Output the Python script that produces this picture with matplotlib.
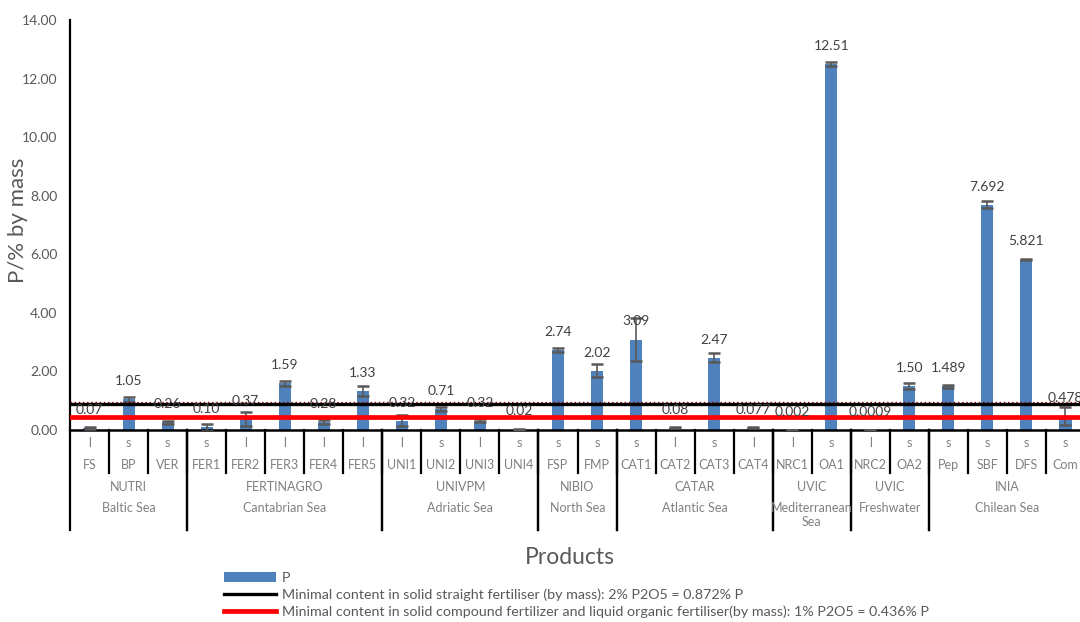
import matplotlib
matplotlib.use("Agg")
import matplotlib.pyplot as plt
import matplotlib.transforms as mtransforms
from matplotlib.lines import Line2D
from matplotlib.patches import Patch

plt.rcParams['font.family'] = ['Lato', 'DejaVu Sans']

# ---- data -------------------------------------------------------------
products = ["FS", "BP", "VER", "FER1", "FER2", "FER3", "FER4", "FER5",
            "UNI1", "UNI2", "UNI3", "UNI4", "FSP", "FMP",
            "CAT1", "CAT2", "CAT3", "CAT4", "NRC1", "OA1", "NRC2", "OA2",
            "Pep", "SBF", "DFS", "Com"]
states = ["l", "s", "s", "s", "l", "l", "l", "l",
          "l", "s", "l", "s", "s", "s",
          "s", "l", "s", "l", "l", "s", "l", "s",
          "s", "s", "s", "s"]
p_labels = ["0.07", "1.05", "0.26", "0.10", "0.37", "1.59", "0.28", "1.33",
            "0.32", "0.71", "0.32", "0.02", "2.74", "2.02",
            "3.09", "0.08", "2.47", "0.077", "0.002", "12.51", "0.0009", "1.50",
            "1.489", "7.692", "5.821", "0.478"]
p_values = [float(s) for s in p_labels]
p_errors = [0.02, 0.08, 0.06, 0.12, 0.24, 0.10, 0.06, 0.18,
            0.18, 0.06, 0.04, 0.01, 0.06, 0.22,
            0.72, 0.02, 0.16, 0.02, 0.0, 0.07, 0.0, 0.10,
            0.06, 0.12, 0.01, 0.30]

# partner groups: (name, region, first index, last index)
groups = [("NUTRI", "Baltic Sea", 0, 2),
          ("FERTINAGRO", "Cantabrian Sea", 3, 7),
          ("UNIVPM", "Adriatic Sea", 8, 11),
          ("NIBIO", "North Sea", 12, 13),
          ("CATAR", "Atlantic Sea", 14, 17),
          ("UVIC", "Mediterranean\nSea", 18, 19),
          ("UVIC", "Freshwater", 20, 21),
          ("INIA", "Chilean Sea", 22, 25)]

straight_min = 0.872   # 2% P2O5
compound_min = 0.436   # 1% P2O5
dotted_ref = 0.95

y_ticks = [0, 2, 4, 6, 8, 10, 12, 14]

# ---- figure ------------------------------------------------------------
W, H = 1080, 622
fig = plt.figure(figsize=(W / 100, H / 100), dpi=100)
left_px, right_px, top_px, bottom_px = 70, 1085, 20, 430
ax = fig.add_axes([left_px / W, 1 - bottom_px / H,
                   (right_px - left_px) / W, (bottom_px - top_px) / H])

blue = "#4F81BD"
grey_txt = "#595959"
light_txt = "#808080"

x = list(range(len(products)))
ax.bar(x, p_values, width=0.31, color=blue, zorder=2)
ax.errorbar(x, p_values, yerr=p_errors, fmt="none", ecolor="#595959",
            elinewidth=1.2, capsize=4.3, capthick=1.8, zorder=3)

for xi, v, s in zip(x, p_values, p_labels):
    ax.annotate(s, (xi, v), xytext=(0, 13), textcoords="offset points",
                ha="center", va="center", fontsize=10, color="#404040",
                zorder=4)

ax.axhline(dotted_ref, color="#A00000", lw=1.0, ls=(0, (1, 2)), zorder=3)
ax.axhline(straight_min, color="black", lw=2.4, zorder=3)
ax.axhline(compound_min, color="#FF0000", lw=3.4, zorder=3)

ax.set_xlim(-0.5, len(products) - 0.5)
ax.set_ylim(0, 14)
ax.set_yticks(y_ticks)
ax.set_yticklabels([f"{t:.2f}" for t in y_ticks])
ax.tick_params(axis="y", length=0, pad=9, labelsize=10, labelcolor=grey_txt)
ax.tick_params(axis="x", length=0, labelbottom=False)
for side in ("top", "right"):
    ax.spines[side].set_visible(False)
ax.spines["left"].set_linewidth(1.6)
ax.spines["bottom"].set_linewidth(1.8)
ax.set_ylabel("P/% by mass", fontsize=16, color=grey_txt, va="center")
ax.yaxis.set_label_coords((18 - left_px) / (right_px - left_px),
                          (bottom_px - 220) / (bottom_px - top_px))

# ---- multi-level category axis ----------------------------------------
tr = mtransforms.blended_transform_factory(ax.transData, fig.transFigure)


def fy(py):
    return 1 - py / H


for xi, st, name in zip(x, states, products):
    ax.text(xi, fy(443), st, transform=tr, ha="center", va="center",
            fontsize=9, color=light_txt, clip_on=False)
    ax.text(xi, fy(465), name, transform=tr, ha="center", va="center",
            fontsize=9, color=light_txt, clip_on=False)

for i in range(1, len(products)):
    ax.add_line(Line2D([i - 0.5, i - 0.5], [fy(430), fy(473)], transform=tr,
                       color="black", lw=1.6, clip_on=False))

for name, region, a, b in groups:
    cx = (a + b) / 2
    ax.text(cx, fy(487), name, transform=tr, ha="center", va="center",
            fontsize=9, color=light_txt, clip_on=False)
    if "\n" in region:
        ax.text(cx, fy(502), region, transform=tr, ha="center", va="top",
                fontsize=9, color=light_txt, clip_on=False,
                linespacing=1.2)
    else:
        ax.text(cx, fy(508), region, transform=tr, ha="center", va="center",
                fontsize=9, color=light_txt, clip_on=False)
    for edge in (a - 0.5, b + 0.5):
        ax.add_line(Line2D([edge, edge], [fy(430), fy(530)], transform=tr,
                           color="black", lw=1.6, clip_on=False))

fig.text((left_px + 500) / W, fy(557), "Products", ha="center", va="center",
         fontsize=16.5, color=grey_txt)

# ---- legend --------------------------------------------------------------
handles = [Patch(facecolor=blue, edgecolor="none"),
           Line2D([], [], color="black", lw=2.4),
           Line2D([], [], color="#FF0000", lw=3.4)]
labels = ["P",
          "Minimal content in solid straight fertiliser (by mass): 2% P2O5 = 0.872% P",
          "Minimal content in solid compound fertilizer and liquid organic fertiliser(by mass): 1% P2O5 = 0.436% P"]
fig.legend(handles, labels, loc="upper left", bbox_to_anchor=(224 / W, fy(572)),
           frameon=False, fontsize=10.3, handlelength=3.6, handletextpad=0.45,
           labelspacing=0.3, borderpad=0, borderaxespad=0,
           labelcolor=grey_txt)

fig.savefig("out.png", dpi=100)
